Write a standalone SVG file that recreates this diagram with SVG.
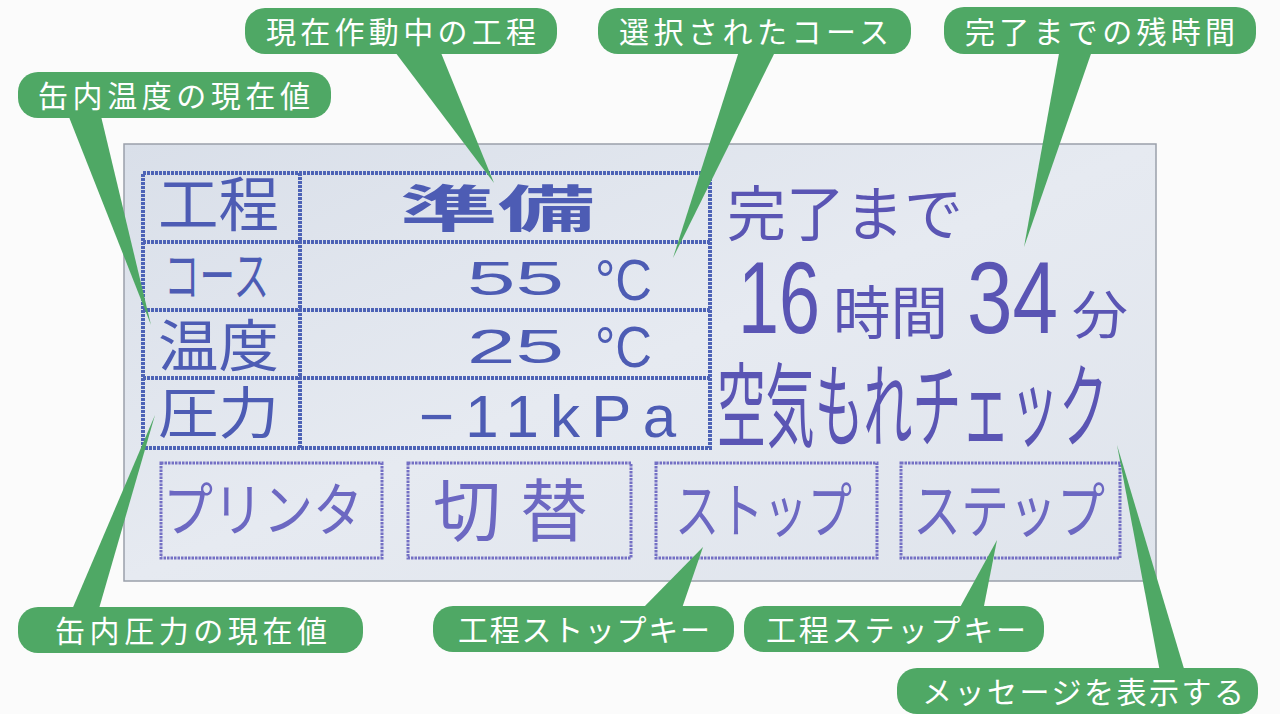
<svg xmlns="http://www.w3.org/2000/svg" width="1280" height="714" viewBox="0 0 1280 714">
  <defs>
    <linearGradient id="lcdGrad" x1="0" y1="0" x2="1" y2="1">
      <stop offset="0" stop-color="#d9dfe9"/>
      <stop offset="0.5" stop-color="#e6eaf1"/>
      <stop offset="1" stop-color="#dfe4ec"/>
    </linearGradient>
    <style>
      .pill { fill: #4fa865; }
      .ptr { fill: #4fa865; }
      .ptxt { font-family: "Noto Sans CJK JP", "Noto Sans", sans-serif; font-size: 30px; fill: #ffffff; text-anchor: middle; }
      .grid { fill: none; stroke: #4d63b6; stroke-width: 4; stroke-dasharray: 3 1; }
      .btn { fill: none; stroke: #7470c4; stroke-width: 3; stroke-dasharray: 2.5 1; }
      .lcd { font-family: "Noto Sans CJK JP", "Noto Sans", sans-serif; fill: #4d5cb4; }
      .lcdr { font-family: "Noto Sans CJK JP", "Noto Sans", sans-serif; fill: #5a55b4; }
      .num { font-family: "Liberation Sans", "DejaVu Sans", sans-serif; }
      .btxt { font-family: "Noto Sans CJK JP", "Noto Sans", sans-serif; fill: #6c68c2; }
    </style>
  </defs>

  <rect x="0" y="0" width="1280" height="714" fill="#fbfbfb"/>

  <!-- LCD screen -->
  <g id="lcd-screen">
    <rect x="124" y="144" width="1032" height="437" fill="url(#lcdGrad)" stroke="#9aa0aa" stroke-width="1.5"/>
    <!-- table -->
    <rect class="grid" x="143" y="173" width="567" height="275"/>
    <line class="grid" x1="300" y1="173" x2="300" y2="448"/>
    <line class="grid" x1="143" y1="242" x2="710" y2="242"/>
    <line class="grid" x1="143" y1="310" x2="710" y2="310"/>
    <line class="grid" x1="143" y1="378" x2="710" y2="378"/>

    <text class="lcd" x="158" y="226" font-size="59" textLength="121" lengthAdjust="spacingAndGlyphs">工程</text>
    <text class="lcd" x="164" y="296" font-size="54" textLength="105" lengthAdjust="spacingAndGlyphs">コース</text>
    <text class="lcd" x="158" y="366" font-size="56" textLength="121" lengthAdjust="spacingAndGlyphs">温度</text>
    <text class="lcd" x="158" y="433" font-size="56" textLength="121" lengthAdjust="spacingAndGlyphs">圧力</text>

    <text class="lcd" x="400" y="227" font-size="50" font-weight="bold" textLength="195" lengthAdjust="spacingAndGlyphs">準備</text>
    <text class="lcd num" x="467" y="295" font-size="49" textLength="97" lengthAdjust="spacingAndGlyphs">55</text>
    <text class="lcd num" x="595" y="300" font-size="58" textLength="57" lengthAdjust="spacingAndGlyphs">°C</text>
    <text class="lcd num" x="467" y="363" font-size="49" textLength="97" lengthAdjust="spacingAndGlyphs">25</text>
    <text class="lcd num" x="595" y="367" font-size="58" textLength="57" lengthAdjust="spacingAndGlyphs">°C</text>
    <text class="lcd num" x="419" y="437" font-size="60" textLength="257" lengthAdjust="spacing">−11kPa</text>

    <!-- right side messages -->
    <text class="lcdr" x="727" y="236" font-size="60" textLength="236" lengthAdjust="spacingAndGlyphs">完了まで</text>
    <g transform="translate(738,333) scale(1,1.5)">
      <text class="lcdr num" x="0" y="0" font-size="68" textLength="82" lengthAdjust="spacingAndGlyphs">16</text>
    </g>
    <text class="lcdr" x="833" y="334" font-size="58" textLength="115" lengthAdjust="spacingAndGlyphs">時間</text>
    <g transform="translate(967,333) scale(1,1.5)">
      <text class="lcdr num" x="0" y="0" font-size="68" textLength="91" lengthAdjust="spacingAndGlyphs">34</text>
    </g>
    <text class="lcdr" x="1072" y="334" font-size="52" textLength="56" lengthAdjust="spacingAndGlyphs">分</text>
    <g transform="translate(717,440) scale(1,1.88)">
      <text class="lcdr" x="0" y="0" font-size="49" textLength="391" lengthAdjust="spacingAndGlyphs">空気もれチェック</text>
    </g>

    <!-- keys -->
    <g id="key-printer">
      <rect class="btn" x="161" y="463" width="221" height="95"/>
      <text class="btxt" x="163" y="531" font-size="58" textLength="200" lengthAdjust="spacingAndGlyphs">プリンタ</text>
    </g>
    <g id="key-switch">
      <rect class="btn" x="408" y="463" width="223" height="95"/>
      <text class="btxt" x="433" y="536" font-size="68" textLength="155" lengthAdjust="spacing">切替</text>
    </g>
    <g id="key-stop">
      <rect class="btn" x="656" y="463" width="221" height="95"/>
      <text class="btxt" x="675" y="533" font-size="60" textLength="177" lengthAdjust="spacingAndGlyphs">ストップ</text>
    </g>
    <g id="key-step">
      <rect class="btn" x="901" y="463" width="219" height="95"/>
      <text class="btxt" x="913" y="533" font-size="60" textLength="192" lengthAdjust="spacingAndGlyphs">ステップ</text>
    </g>
  </g>

  <!-- connectors (callout pointers) -->
  <g id="connectors">
    <polygon class="ptr" points="392,48 439,48 494,183"/>
    <polygon class="ptr" points="740,48 777,48 673,258"/>
    <polygon class="ptr" points="1060,48 1093,48 1024,247"/>
    <polygon class="ptr" points="67,112 100,112 151,325"/>
    <polygon class="ptr" points="71,612 98,612 155,415"/>
    <polygon class="ptr" points="640,611 681,611 703,547"/>
    <polygon class="ptr" points="958,611 983,611 997,540"/>
    <polygon class="ptr" points="1160,672 1185,672 1117,445"/>
  </g>

  <!-- callouts -->
  <g id="callout-current-step">
    <rect class="pill" x="245" y="8" width="312" height="46" rx="20"/>
    <text class="ptxt" x="401" y="43" textLength="270" lengthAdjust="spacing">現在作動中の工程</text>
  </g>
  <g id="callout-selected-course">
    <rect class="pill" x="598" y="8" width="313" height="46" rx="20"/>
    <text class="ptxt" x="754" y="43" textLength="270" lengthAdjust="spacing">選択されたコース</text>
  </g>
  <g id="callout-remaining-time">
    <rect class="pill" x="944" y="7" width="312" height="47" rx="20"/>
    <text class="ptxt" x="1100" y="43" textLength="270" lengthAdjust="spacing">完了までの残時間</text>
  </g>
  <g id="callout-temperature">
    <rect class="pill" x="18" y="72" width="313" height="46" rx="20"/>
    <text class="ptxt" x="174" y="107" textLength="272" lengthAdjust="spacing">缶内温度の現在値</text>
  </g>
  <g id="callout-pressure">
    <rect class="pill" x="18" y="607" width="345" height="46" rx="20"/>
    <text class="ptxt" x="191" y="642" textLength="272" lengthAdjust="spacing">缶内圧力の現在値</text>
  </g>
  <g id="callout-stop-key">
    <rect class="pill" x="433" y="606" width="301" height="46" rx="20"/>
    <text class="ptxt" x="584" y="641" textLength="252" lengthAdjust="spacing">工程ストップキー</text>
  </g>
  <g id="callout-step-key">
    <rect class="pill" x="744" y="606" width="300" height="46" rx="20"/>
    <text class="ptxt" x="896" y="641" textLength="260" lengthAdjust="spacing">工程ステップキー</text>
  </g>
  <g id="callout-message">
    <rect class="pill" x="897" y="668" width="361" height="46" rx="20"/>
    <text class="ptxt" x="1083" y="703" textLength="322" lengthAdjust="spacing">メッセージを表示する</text>
  </g>
</svg>
